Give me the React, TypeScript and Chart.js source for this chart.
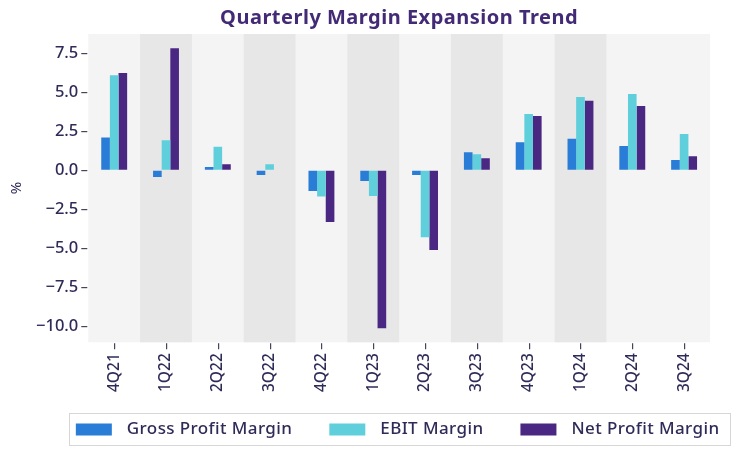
import React, { useEffect, useRef } from "react";
import { Chart, registerables } from "chart.js";

Chart.register(...registerables);

const categories = ["4Q21", "1Q22", "2Q22", "3Q22", "4Q22", "1Q23", "2Q23", "3Q23", "4Q23", "1Q24", "2Q24", "3Q24"];
const grossMargin = [2.1, -0.43, 0.2, -0.3, -1.34, -0.69, -0.3, 1.16, 1.8, 2.02, 1.55, 0.65];
const ebitMargin = [6.1, 1.92, 1.5, 0.38, -1.68, -1.66, -4.3, 1.03, 3.61, 4.71, 4.9, 2.32];
const netMargin = [6.24, 7.84, 0.38, 0.0, -3.33, -10.15, -5.12, 0.77, 3.48, 4.47, 4.13, 0.9];
const seriesNames = ["Gross Profit Margin", "EBIT Margin", "Net Profit Margin"];
const yTickValues = [-10, -7.5, -5, -2.5, 0, 2.5, 5, 7.5];
const shadedCategories = ["1Q22", "3Q22", "1Q23", "3Q23", "1Q24"];

const FONT = "'Noto Sans', 'DejaVu Sans', sans-serif";
const TEXT = "#2f2b58";
const TICK_LEN = 6;

const bandPlugin = {
  id: "bands",
  beforeDatasetsDraw(chart: any) {
    const { ctx, chartArea } = chart;
    const xs = chart.scales.x;
    const w = chartArea.width / categories.length;
    ctx.save();
    ctx.fillStyle = "#f4f4f4";
    ctx.fillRect(chartArea.left, chartArea.top, chartArea.width, chartArea.height);
    ctx.fillStyle = "#e7e7e7";
    categories.forEach((c, i) => {
      if (shadedCategories.includes(c)) {
        const cx = xs.getPixelForValue(i);
        ctx.fillRect(cx - w / 2, chartArea.top, w, chartArea.height);
      }
    });
    ctx.restore();
  },
};

const tickMarkPlugin = {
  id: "tickMarks",
  afterDraw(chart: any) {
    const { ctx, chartArea } = chart;
    const xs = chart.scales.x;
    const ys = chart.scales.y;
    ctx.save();
    ctx.fillStyle = "#44445a";
    categories.forEach((_, i) => {
      const x = Math.round(xs.getPixelForValue(i));
      ctx.fillRect(x, chartArea.bottom + 1, 1.2, TICK_LEN);
    });
    yTickValues.forEach((v) => {
      const y = Math.round(ys.getPixelForValue(v));
      ctx.fillRect(chartArea.left - 1 - TICK_LEN, y, TICK_LEN, 1.2);
    });
    ctx.restore();
  },
};

const titlePlugin = {
  id: "centerTitle",
  afterDraw(chart: any) {
    const { ctx, chartArea } = chart;
    ctx.save();
    ctx.font = `bold 20px ${FONT}`;
    (ctx as any).letterSpacing = "0.5px";
    ctx.fillStyle = "#432a76";
    ctx.textAlign = "center";
    ctx.textBaseline = "middle";
    ctx.fillText("Quarterly Margin Expansion Trend", (chartArea.left + chartArea.right) / 2, 18);
    ctx.restore();
  },
};

const legendPlugin = {
  id: "boxLegend",
  afterDraw(chart: any) {
    const { ctx, chartArea } = chart;
    ctx.save();
    ctx.font = `500 17px ${FONT}`;
    (ctx as any).letterSpacing = "0.4px";
    const sw = 36, sh = 12, gapT = 15, gapItem = 37, padL = 7, padR = 10;
    const items = chart.data.datasets.map((d: any) => ({
      label: d.label,
      color: d.backgroundColor,
      w: ctx.measureText(d.label).width,
    }));
    const total = items.reduce((s: number, it: any) => s + sw + gapT + it.w, 0) + gapItem * (items.length - 1) + padL + padR;
    const cx = (chartArea.left + chartArea.right) / 2;
    const left = cx - total / 2;
    const top = 413, h = 32;
    ctx.strokeStyle = "#d6d6d6";
    ctx.lineWidth = 1;
    ctx.strokeRect(Math.round(left) + 0.5, top + 0.5, Math.round(total), h);
    let x = left + padL;
    const cy = top + h / 2 + 0.5;
    items.forEach((it: any) => {
      ctx.fillStyle = it.color;
      ctx.fillRect(x, cy - sh / 2, sw, sh);
      x += sw + gapT;
      ctx.fillStyle = TEXT;
      ctx.textBaseline = "middle";
      ctx.textAlign = "left";
      ctx.fillText(it.label, x, cy);
      x += it.w + gapItem;
    });
    ctx.restore();
  },
};

export default function App() {
  const ref = useRef<HTMLCanvasElement>(null);
  useEffect(() => {
    document.body.style.margin = "0";
    const chart = new Chart(ref.current!, {
      type: "bar",
      data: {
        labels: categories,
        datasets: [
          { label: seriesNames[0], data: grossMargin, backgroundColor: "#2a7dd6" },
          { label: seriesNames[1], data: ebitMargin, backgroundColor: "#5fcfdc" },
          { label: seriesNames[2], data: netMargin, backgroundColor: "#4b2784" },
        ],
      },
      options: {
        animation: false,
        responsive: false,
        layout: { padding: { top: 34, right: 27, bottom: 58, left: 2 } },
        datasets: { bar: { categoryPercentage: 0.5, barPercentage: 1.0 } },
        plugins: { legend: { display: false }, title: { display: false }, tooltip: { enabled: false } },
        scales: {
          x: {
            grid: { display: true, drawOnChartArea: false, drawTicks: true, tickLength: TICK_LEN, color: "rgba(0,0,0,0)" },
            border: { display: false },
            ticks: { maxRotation: 90, minRotation: 90, color: TEXT, font: { family: FONT, size: 15.5, weight: 500 }, padding: 5 },
          },
          y: {
            min: -11.05,
            max: 8.75,
            afterBuildTicks: (scale: any) => {
              scale.ticks = yTickValues.map((v) => ({ value: v }));
            },
            grid: { display: true, drawOnChartArea: false, drawTicks: true, tickLength: TICK_LEN, color: "rgba(0,0,0,0)" },
            border: { display: false },
            ticks: {
              color: TEXT,
              font: { family: FONT, size: 16.5, weight: 500 },
              padding: 4,
              callback: (v: any) => (Number(v) < 0 ? "\u2212" : "") + Math.abs(Number(v)).toFixed(1),
            },
            title: { display: true, text: "%", color: TEXT, font: { family: FONT, size: 15 }, padding: 6 },
          },
        },
      },
      plugins: [bandPlugin, tickMarkPlugin, titlePlugin, legendPlugin],
    });
    return () => chart.destroy();
  }, []);
  return (
    <div style={{ width: 737, height: 455 }}>
      <canvas ref={ref} width={737} height={455} style={{ width: 737, height: 455 }} />
    </div>
  );
}
